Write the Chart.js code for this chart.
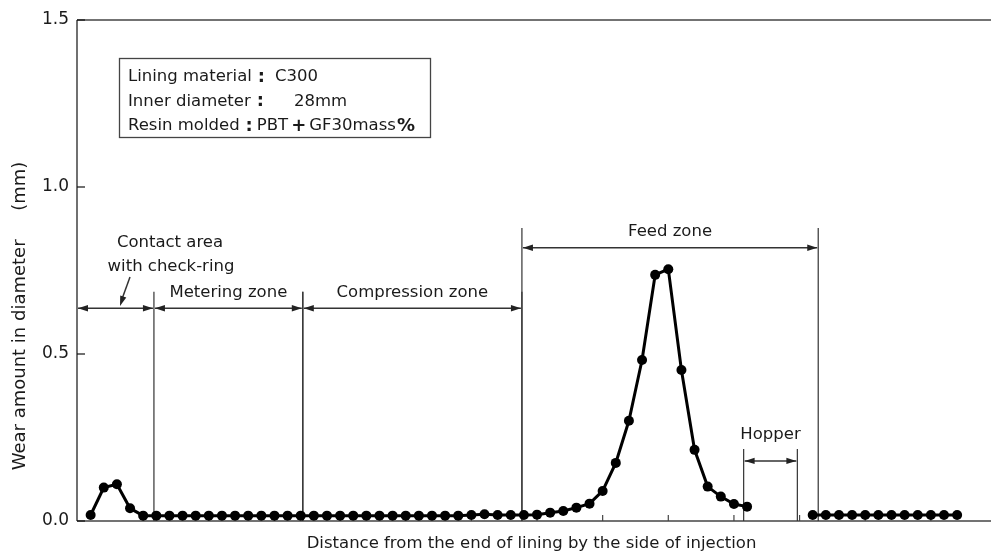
<!DOCTYPE html>
<html>
<head>
<meta charset="utf-8">
<script src="https://cdn.jsdelivr.net/npm/chart.js@4.4.1/dist/chart.umd.min.js"></script>
<style>
  body { margin: 0; background: #fff; }
</style>
</head>
<body>
<canvas id="wearChart" width="991" height="554"></canvas>
<script>
// wear amount (mm) at each measuring station, null = hopper opening (no data)
const wear = [
  0.018, 0.100, 0.110, 0.038,
  0.016, 0.016, 0.016, 0.016, 0.016, 0.016, 0.016, 0.016, 0.016, 0.016,
  0.016, 0.016, 0.016, 0.016, 0.016, 0.016, 0.016, 0.016, 0.016, 0.016,
  0.016, 0.016, 0.016, 0.016, 0.016,
  0.018, 0.020, 0.018, 0.018, 0.018, 0.019,
  0.025, 0.030, 0.040, 0.052, 0.090, 0.174, 0.300, 0.482, 0.737, 0.754,
  0.452, 0.213, 0.103, 0.073, 0.051, 0.043,
  null, null, null, null,
  0.018, 0.018, 0.018, 0.018, 0.018, 0.018, 0.018, 0.018, 0.018, 0.018, 0.018, 0.018
];
const yTicks = [0, 0.5, 1.0, 1.5];
const xTicks = [4, 9, 14, 19, 24, 29, 34, 39, 44, 49, 54, 59, 64];

// zones along the lining (x in station units)
const zoneNames = ["Metering zone", "Compression zone", "Feed zone", "Hopper"];
const zoneStart = [4.82, 16.16, 32.85, 49.74];
const zoneEnd = [16.16, 32.85, 55.42, 53.83];
const zoneLevel = [0.637, 0.637, 0.818, 0.18];
const zoneLineTop = [0.6865, 0.6865, 0.877, 0.2156];
const contactEnd = 4.82;

// condition box: [text, bold, gap after]
const legendLines = [
  [["Lining material", 0, 6], [":", 1, 10], ["C300", 0, 0]],
  [["Inner diameter", 0, 6], [":", 1, 30], ["28mm", 0, 0]],
  [["Resin molded", 0, 6], [":", 1, 4], ["PBT", 0, 3], ["+", 1, 3], ["GF30mass", 0, 1], ["%", 1, 0]]
];

const FONT = "'DejaVu Sans', sans-serif";

function seg(ctx, x1, y1, x2, y2) {
  ctx.beginPath();
  ctx.moveTo(x1, y1);
  ctx.lineTo(x2, y2);
  ctx.stroke();
}

function head(ctx, x, y, angle) {
  ctx.save();
  ctx.translate(x, y);
  ctx.rotate(angle);
  ctx.beginPath();
  ctx.moveTo(0, 0);
  ctx.lineTo(-10, -3.2);
  ctx.lineTo(-10, 3.2);
  ctx.closePath();
  ctx.fill();
  ctx.restore();
}

function dimArrow(ctx, x1, x2, yy) {
  seg(ctx, x1, yy, x2, yy);
  head(ctx, x1, yy, Math.PI);
  head(ctx, x2, yy, 0);
}

const overlay = {
  id: "overlay",
  beforeDatasetsDraw(chart) {
    const { ctx, chartArea: a, scales: { x, y } } = chart;
    ctx.save();

    // frame
    ctx.strokeStyle = "#444";
    ctx.lineWidth = 1.6;
    seg(ctx, a.left, a.top, chart.width, a.top);
    seg(ctx, a.left, a.bottom, chart.width, a.bottom);
    ctx.strokeStyle = "#111";
    ctx.lineWidth = 1.2;
    seg(ctx, a.left, a.top, a.left, a.bottom);

    // inner tick marks
    yTicks.forEach(v => {
      const py = y.getPixelForValue(v);
      seg(ctx, a.left, py, a.left + 8, py);
    });
    ctx.strokeStyle = "#444";
    xTicks.forEach(v => {
      const px = x.getPixelForValue(v);
      seg(ctx, px, a.bottom, px, a.bottom - 6);
    });

    // zone boundaries and arrows
    ctx.strokeStyle = "#333";
    ctx.fillStyle = "#222";
    ctx.lineWidth = 1.2;
    zoneNames.forEach((name, i) => {
      const x1 = x.getPixelForValue(zoneStart[i]);
      const x2 = x.getPixelForValue(zoneEnd[i]);
      const top = y.getPixelForValue(zoneLineTop[i]);
      seg(ctx, x1, top, x1, a.bottom);
      seg(ctx, x2, top, x2, a.bottom);
    });
    ctx.lineWidth = 1.5;
    zoneNames.forEach((name, i) => {
      const x1 = x.getPixelForValue(zoneStart[i]);
      const x2 = x.getPixelForValue(zoneEnd[i]);
      const ay = y.getPixelForValue(zoneLevel[i]);
      dimArrow(ctx, x1 + 1, x2 - 1, ay);
    });
    // contact area arrow
    const cy = y.getPixelForValue(zoneLevel[0]);
    dimArrow(ctx, a.left + 1, x.getPixelForValue(contactEnd) - 1, cy);
    seg(ctx, 130, 277, 122, 299);
    head(ctx, 120, 306, Math.atan2(29, -10));

    // zone labels
    ctx.font = "16.5px " + FONT;
    ctx.textAlign = "center";
    ctx.textBaseline = "middle";
    ctx.fillStyle = "#1a1a1a";
    zoneNames.forEach((name, i) => {
      const cx = (x.getPixelForValue(zoneStart[i]) + x.getPixelForValue(zoneEnd[i])) / 2;
      const ay = y.getPixelForValue(zoneLevel[i]);
      const off = name === "Hopper" ? 26 : 16;
      ctx.fillText(name, cx, ay - off);
    });
    ctx.fillText("Contact area", 170, 243);
    ctx.fillText("with check-ring", 171, 267);

    // condition box
    ctx.strokeStyle = "#444";
    ctx.lineWidth = 1.3;
    ctx.strokeRect(119.5, 58.5, 311, 79);
    ctx.textAlign = "left";
    legendLines.forEach((parts, row) => {
      let tx = 128;
      const ty = 77 + row * 24.5;
      parts.forEach(([txt, bold, gap]) => {
        ctx.font = (bold ? "bold 18px " : "16.5px ") + FONT;
        ctx.fillText(txt, tx, ty);
        tx += ctx.measureText(txt).width + gap;
      });
    });

    // y axis title
    ctx.save();
    ctx.translate(20, 316);
    ctx.rotate(-Math.PI / 2);
    ctx.textAlign = "center";
    ctx.font = "18px " + FONT;
    ctx.fillText("Wear amount in diameter     (mm)", 0, 0);
    ctx.restore();

    ctx.restore();
  }
};

new Chart(document.getElementById("wearChart"), {
  type: "line",
  data: {
    datasets: [{
      data: wear.map((v, i) => ({ x: i, y: v })),
      borderColor: "#000",
      backgroundColor: "#000",
      borderWidth: 3,
      pointRadius: 5,
      pointBorderWidth: 0,
      tension: 0,
      spanGaps: false
    }]
  },
  plugins: [overlay],
  options: {
    responsive: false,
    animation: false,
    layout: { padding: { top: 20, right: 0, left: 0, bottom: 0 } },
    plugins: { legend: { display: false }, tooltip: { enabled: false } },
    scales: {
      x: {
        type: "linear",
        min: -1.04,
        max: 68.2,
        grid: { display: false, drawTicks: false },
        border: { display: false },
        ticks: { display: false },
        afterFit: s => { s.height = 33; },
        title: {
          display: true,
          text: "Distance from the end of lining by the side of injection",
          color: "#1a1a1a",
          font: { family: FONT, size: 16.5 },
          padding: { top: 0, bottom: 0 }
        }
      },
      y: {
        min: 0,
        max: 1.5,
        grid: { display: false, drawTicks: false },
        border: { display: false },
        afterBuildTicks: s => { s.ticks = yTicks.map(v => ({ value: v })); },
        afterFit: s => { s.width = 77; },
        ticks: {
          padding: 8,
          color: "#1a1a1a",
          font: { family: FONT, size: 17 },
          callback: v => v.toFixed(1)
        }
      }
    }
  }
});
</script>
</body>
</html>
